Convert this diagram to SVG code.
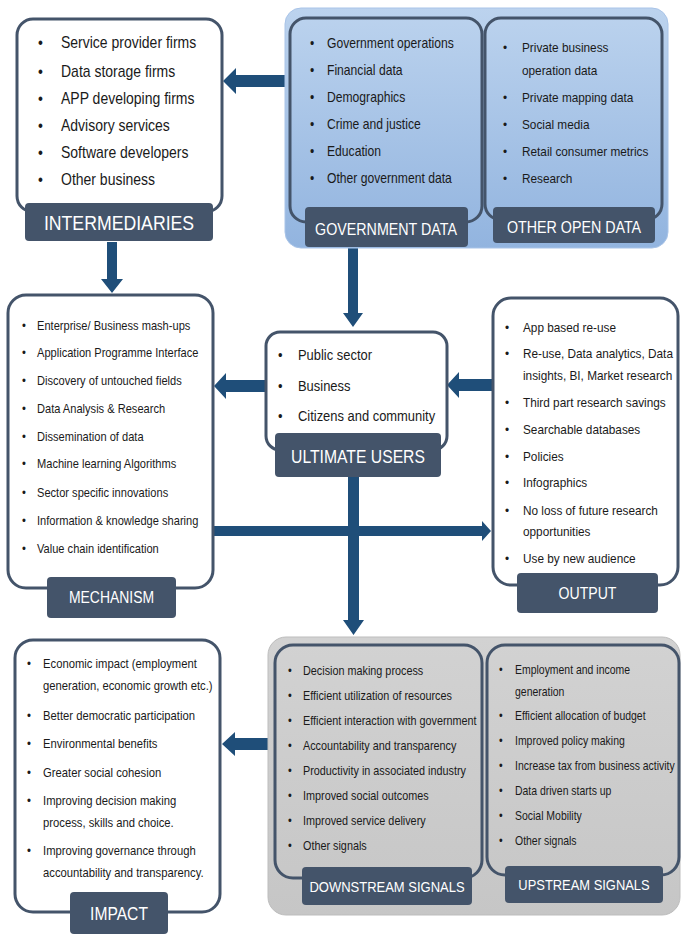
<svg xmlns="http://www.w3.org/2000/svg" width="681" height="934" viewBox="0 0 681 934">
<defs>
<linearGradient id="gBlue" x1="0" y1="0" x2="0" y2="1"><stop offset="0" stop-color="#bcd3ee"/><stop offset="1" stop-color="#92b4df"/></linearGradient>
<linearGradient id="gGray" x1="0" y1="0" x2="0" y2="1"><stop offset="0" stop-color="#d2d2d2"/><stop offset="1" stop-color="#c6c6c6"/></linearGradient>
<style>
.box{fill:#fff;stroke:#44546a;stroke-width:3}
.ibox{fill:none;stroke:#44546a;stroke-width:3}
.lbl{fill:#44546a}
.lt{fill:#fff;font-family:"Liberation Sans",Arial,sans-serif;text-anchor:middle}
.t{fill:#1a1a1a;font-family:"Liberation Sans",Arial,sans-serif}
.arr{fill:#1f4e79}
</style>
</defs>
<rect width="681" height="934" fill="#fff"/>

<g id="connectors">
<polygon class="arr" points="287,75 236,75 236,68 223,81 236,94 236,87 287,87"/>
<polygon class="arr" points="107,242 117,242 117,279 123,279 112,293 101,279 107,279"/>
<polygon class="arr" points="348,248 358,248 358,313 363,313 353,327 343,313 348,313"/>
<polygon class="arr" points="265,380 226,380 226,373 214,386 226,399 226,392 265,392"/>
<polygon class="arr" points="492,379 459,379 459,372 447,385 459,398 459,391 492,391"/>
<polygon class="arr" points="213,526 482,526 482,521 491,531 482,541 482,536 213,536"/>
<polygon class="arr" points="348,477 359,477 359,620 364,620 353.5,635 343,620 348,620"/>
<polygon class="arr" points="268,738 235,738 235,732 222,744 235,756 235,750 268,750"/>
</g>

<g id="intermediaries">
<rect class="box" x="17" y="19" width="205" height="193" rx="16"/>
<g class="t" font-size="15.9" transform="translate(61 0) scale(0.88 1)">
<text x="-26.1" y="48">•<tspan x="0">Service provider firms</tspan></text>
<text x="-26.1" y="77">•<tspan x="0">Data storage firms</tspan></text>
<text x="-26.1" y="104">•<tspan x="0">APP developing firms</tspan></text>
<text x="-26.1" y="131">•<tspan x="0">Advisory services</tspan></text>
<text x="-26.1" y="158">•<tspan x="0">Software developers</tspan></text>
<text x="-26.1" y="185">•<tspan x="0">Other business</tspan></text>
</g>
<rect class="lbl" x="25" y="203" width="188" height="38" rx="4"/>
<text class="lt" x="0" y="230" font-size="20.8" transform="translate(119 0) scale(0.85 1)">INTERMEDIARIES</text>
</g>

<g id="open-data-panel">
<rect x="285" y="8" width="383" height="240" rx="16" fill="url(#gBlue)" stroke="#a9c4e8" stroke-width="1"/>
</g>

<g id="government-data">
<rect class="ibox" x="290" y="18" width="192" height="204" rx="16"/>
<g class="t" font-size="13.8" transform="translate(327 0) scale(0.88 1)">
<text x="-19.3" y="48">•<tspan x="0">Government operations</tspan></text>
<text x="-19.3" y="75">•<tspan x="0">Financial data</tspan></text>
<text x="-19.3" y="102">•<tspan x="0">Demographics</tspan></text>
<text x="-19.3" y="129">•<tspan x="0">Crime and justice</tspan></text>
<text x="-19.3" y="156">•<tspan x="0">Education</tspan></text>
<text x="-19.3" y="183">•<tspan x="0">Other government data</tspan></text>
</g>
<rect class="lbl" x="305" y="207" width="163" height="40" rx="4"/>
<text class="lt" x="0" y="235" font-size="16.8" transform="translate(386 0) scale(0.85 1)">GOVERNMENT DATA</text>
</g>

<g id="other-open-data">
<rect class="ibox" x="485" y="18" width="177" height="202" rx="16"/>
<g class="t" font-size="13.4" transform="translate(522 0) scale(0.88 1)">
<text x="-21.6" y="52">•<tspan x="0">Private business</tspan></text>
<text x="0" y="75">operation data</text>
<text x="-21.6" y="102">•<tspan x="0">Private mapping data</tspan></text>
<text x="-21.6" y="129">•<tspan x="0">Social media</tspan></text>
<text x="-21.6" y="156">•<tspan x="0">Retail consumer metrics</tspan></text>
<text x="-21.6" y="183">•<tspan x="0">Research</tspan></text>
</g>
<rect class="lbl" x="493" y="207" width="162" height="36" rx="4"/>
<text class="lt" x="0" y="233" font-size="16.8" transform="translate(574 0) scale(0.85 1)">OTHER OPEN DATA</text>
</g>

<g id="mechanism">
<rect class="box" x="8" y="295" width="205" height="293" rx="18"/>
<g class="t" font-size="12.6" transform="translate(37 0) scale(0.88 1)">
<text x="-17" y="330">•<tspan x="0">Enterprise/ Business mash-ups</tspan></text>
<text x="-17" y="357">•<tspan x="0">Application Programme Interface</tspan></text>
<text x="-17" y="385">•<tspan x="0">Discovery of untouched fields</tspan></text>
<text x="-17" y="413">•<tspan x="0">Data Analysis &amp; Research</tspan></text>
<text x="-17" y="441">•<tspan x="0">Dissemination of data</tspan></text>
<text x="-17" y="468">•<tspan x="0">Machine learning Algorithms</tspan></text>
<text x="-17" y="497">•<tspan x="0">Sector specific innovations</tspan></text>
<text x="-17" y="525">•<tspan x="0">Information &amp; knowledge sharing</tspan></text>
<text x="-17" y="553">•<tspan x="0">Value chain identification</tspan></text>
</g>
<rect class="lbl" x="47" y="577" width="129" height="41" rx="4"/>
<text class="lt" x="0" y="603" font-size="16.4" transform="translate(111.5 0) scale(0.85 1)">MECHANISM</text>
</g>

<g id="ultimate-users">
<rect class="box" x="266" y="332" width="181" height="118" rx="14"/>
<g class="t" font-size="14.7" transform="translate(298 0) scale(0.88 1)">
<text x="-22.7" y="360">•<tspan x="0">Public sector</tspan></text>
<text x="-22.7" y="391">•<tspan x="0">Business</tspan></text>
<text x="-22.7" y="421">•<tspan x="0">Citizens and community</tspan></text>
</g>
<rect class="lbl" x="275" y="433" width="166" height="44" rx="4"/>
<text class="lt" x="0" y="463" font-size="18.5" transform="translate(358 0) scale(0.85 1)">ULTIMATE USERS</text>
</g>

<g id="output">
<rect class="box" x="493" y="298" width="185" height="287" rx="18"/>
<g class="t" font-size="13.4" transform="translate(523 0) scale(0.88 1)">
<text x="-20.5" y="332">•<tspan x="0">App based re-use</tspan></text>
<text x="-20.5" y="358">•<tspan x="0">Re-use, Data analytics, Data</tspan></text>
<text x="0" y="380">insights, BI, Market research</text>
<text x="-20.5" y="407">•<tspan x="0">Third part research savings</tspan></text>
<text x="-20.5" y="434">•<tspan x="0">Searchable databases</tspan></text>
<text x="-20.5" y="461">•<tspan x="0">Policies</tspan></text>
<text x="-20.5" y="487">•<tspan x="0">Infographics</tspan></text>
<text x="-20.5" y="515">•<tspan x="0">No loss of future research</tspan></text>
<text x="0" y="536">opportunities</text>
<text x="-20.5" y="563">•<tspan x="0">Use by new audience</tspan></text>
</g>
<rect class="lbl" x="517" y="573" width="141" height="40" rx="4"/>
<text class="lt" x="0" y="599" font-size="16.6" transform="translate(587.5 0) scale(0.85 1)">OUTPUT</text>
</g>

<g id="impact">
<rect class="box" x="15" y="640" width="205" height="272" rx="18"/>
<g class="t" font-size="12.8" transform="translate(43 0) scale(0.88 1)">
<text x="-18.2" y="668">•<tspan x="0">Economic impact (employment</tspan></text>
<text x="0" y="690">generation, economic growth etc.)</text>
<text x="-18.2" y="720">•<tspan x="0">Better democratic participation</tspan></text>
<text x="-18.2" y="748">•<tspan x="0">Environmental benefits</tspan></text>
<text x="-18.2" y="777">•<tspan x="0">Greater social cohesion</tspan></text>
<text x="-18.2" y="805">•<tspan x="0">Improving decision making</tspan></text>
<text x="0" y="827">process, skills and choice.</text>
<text x="-18.2" y="855">•<tspan x="0">Improving governance through</tspan></text>
<text x="0" y="877">accountability and transparency.</text>
</g>
<rect class="lbl" x="70" y="892" width="98" height="42" rx="4"/>
<text class="lt" x="0" y="920" font-size="18.4" transform="translate(119 0) scale(0.85 1)">IMPACT</text>
</g>

<g id="signals-panel">
<rect x="268" y="637" width="412" height="278" rx="18" fill="url(#gGray)" stroke="#bdbdbd" stroke-width="1"/>
</g>

<g id="downstream-signals">
<rect class="ibox" x="275" y="645" width="207" height="233" rx="18"/>
<g class="t" font-size="12.3" transform="translate(303 0) scale(0.88 1)">
<text x="-17" y="675">•<tspan x="0">Decision making process</tspan></text>
<text x="-17" y="700">•<tspan x="0">Efficient utilization of resources</tspan></text>
<text x="-17" y="725">•<tspan x="0">Efficient interaction with government</tspan></text>
<text x="-17" y="750">•<tspan x="0">Accountability and transparency</tspan></text>
<text x="-17" y="775">•<tspan x="0">Productivity in associated industry</tspan></text>
<text x="-17" y="800">•<tspan x="0">Improved social outcomes</tspan></text>
<text x="-17" y="825">•<tspan x="0">Improved service delivery</tspan></text>
<text x="-17" y="850">•<tspan x="0">Other signals</tspan></text>
</g>
<rect class="lbl" x="302" y="867" width="170" height="38" rx="4"/>
<text class="lt" x="0" y="892" font-size="15.3" transform="translate(387 0) scale(0.85 1)">DOWNSTREAM SIGNALS</text>
</g>

<g id="upstream-signals">
<rect class="ibox" x="487" y="645" width="192" height="230" rx="18"/>
<g class="t" font-size="11.9" transform="translate(515 0) scale(0.88 1)">
<text x="-18.2" y="674">•<tspan x="0">Employment and income</tspan></text>
<text x="0" y="696">generation</text>
<text x="-18.2" y="720">•<tspan x="0">Efficient allocation of budget</tspan></text>
<text x="-18.2" y="745">•<tspan x="0">Improved policy making</tspan></text>
<text x="-18.2" y="770">•<tspan x="0">Increase tax from business activity</tspan></text>
<text x="-18.2" y="795">•<tspan x="0">Data driven starts up</tspan></text>
<text x="-18.2" y="820">•<tspan x="0">Social Mobility</tspan></text>
<text x="-18.2" y="845">•<tspan x="0">Other signals</tspan></text>
</g>
<rect class="lbl" x="505" y="866" width="158" height="37" rx="4"/>
<text class="lt" x="0" y="890" font-size="15.2" transform="translate(584 0) scale(0.85 1)">UPSTREAM SIGNALS</text>
</g>
</svg>
